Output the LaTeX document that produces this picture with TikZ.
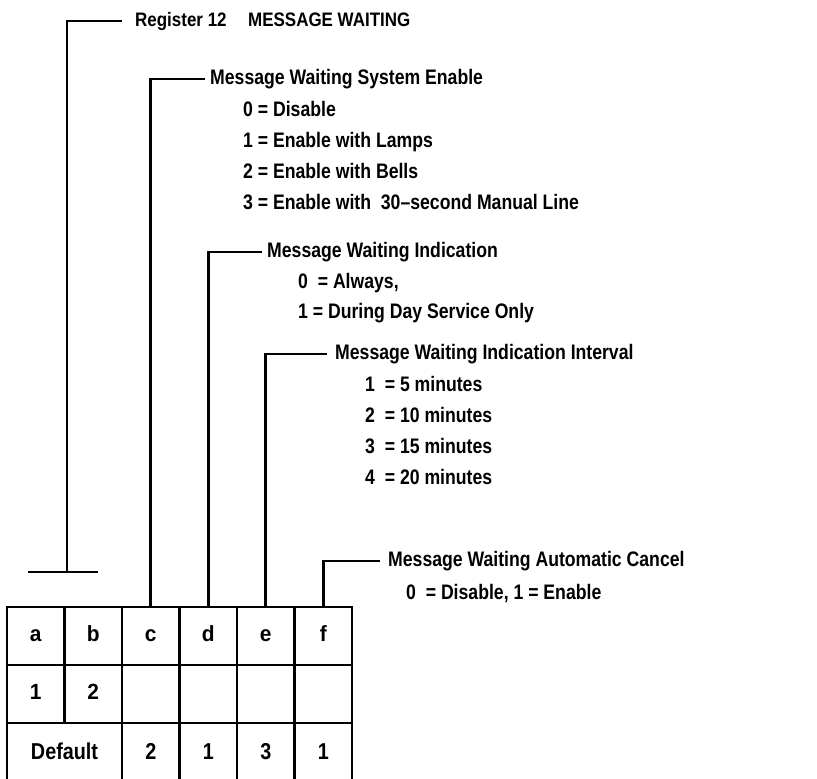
\documentclass[tikz,border=0pt]{standalone}
\usepackage{fontspec}
\setmainfont{Liberation Sans}
\newfontfamily\medf{Liberation Sans Bold}[FakeStretch=0.84]
\newfontfamily\boldf{Liberation Sans Bold}[FakeStretch=0.87]
\newfontfamily\cellf{Liberation Sans Bold}[FakeStretch=0.86]
\newfontfamily\cellb{Liberation Sans Bold}[FakeStretch=0.95]
\begin{document}
\begin{tikzpicture}[x=1pt,y=-1pt,
  conn/.style={line width=2.8pt},
  tbox/.style={anchor=west,inner ysep=0pt,text height=14pt,text depth=4pt},
  txt/.style={tbox,font=\medf\fontsize{21}{25}\selectfont},
  opt/.style={tbox,inner xsep=0pt,font=\medf\fontsize{21}{25}\selectfont},
  ttl/.style={tbox,font=\boldf\fontsize{19.5}{23}\selectfont},
  cell/.style={draw,line width=2.8pt,inner sep=0pt,outer sep=0pt,minimum width=57.5pt,text height=15pt,text depth=4pt},
  hd/.style={font=\cellb\fontsize{22}{25}\selectfont},
  vl/.style={font=\cellf\fontsize{23}{25}\selectfont}]
\useasboundingbox (0,0) rectangle (817,779);

% table
\foreach \n/\t/\x in {a/a/35.75,b/b/93.25,c/c/150.75,d/d/208.25,e/e/265.75,f/f/323.25}{
  \node[cell,hd,minimum height=58pt] (h\n) at (\x,636) {\t};
}
\node[cell,hd,minimum height=58pt] (ra) at (35.75,694) {1};
\node[cell,hd,minimum height=58pt] (rb) at (93.25,694) {2};
\foreach \n/\x in {c/150.75,d/208.25,e/265.75,f/323.25}{
  \node[cell,minimum height=58pt] (r\n) at (\x,694) {};
}
\node[cell,vl,minimum height=62pt,minimum width=115pt] (dab) at (64.5,754) {Default};
\node[cell,vl,minimum height=62pt] (dc) at (150.75,754) {2};
\node[cell,vl,minimum height=62pt] (dd) at (208.25,754) {1};
\node[cell,vl,minimum height=62pt] (de) at (265.75,754) {3};
\node[cell,vl,minimum height=62pt] (df) at (323.25,754) {1};

% title
\node[ttl,inner xsep=13pt] (reg) at (122,21) {Register 12};
\node[ttl,inner xsep=0pt] (msg) at (248,21) {MESSAGE WAITING};
\coordinate (regbot) at (67,572);
\coordinate (tl) at (28,572);
\coordinate (tr) at (98,572);
\draw[conn] (reg.west) -| (regbot);
\draw[conn] (tl) -- (tr);

% c
\node[txt,inner xsep=5pt] (lc) at (205,79) {Message Waiting System Enable};
\node[opt] (c0) at (243,111) {0 = Disable};
\node[opt] (c1) at (243,142) {1 = Enable with Lamps};
\node[opt] (c2) at (243,173) {2 = Enable with Bells};
\node[opt] (c3) at (243,204) {3 = Enable with\ \ 30–second Manual Line};
\draw[conn] (lc.west) -| (hc.north);

% d
\node[txt,inner xsep=5pt] (ld) at (262,252) {Message Waiting Indication};
\node[opt] (d0) at (298,283) {0\ \ = Always,};
\node[opt] (d1) at (298,313) {1 = During Day Service Only};
\draw[conn] (ld.west) -| (hd.north);

% e
\node[txt,inner xsep=8pt] (le) at (327,354) {Message Waiting Indication Interval};
\node[opt] (e1) at (365,386) {1\ \ = 5 minutes};
\node[opt] (e2) at (365,417) {2\ \ = 10 minutes};
\node[opt] (e3) at (365,448) {3\ \ = 15 minutes};
\node[opt] (e4) at (365,479) {4\ \ = 20 minutes};
\draw[conn] (le.west) -| (he.north);

% f
\node[txt,inner xsep=8pt] (lf) at (380,561) {Message Waiting Automatic Cancel};
\node[opt] (f0) at (406,594) {0\ \ = Disable, 1 = Enable};
\draw[conn] (lf.west) -| (hf.north);
\end{tikzpicture}
\end{document}
